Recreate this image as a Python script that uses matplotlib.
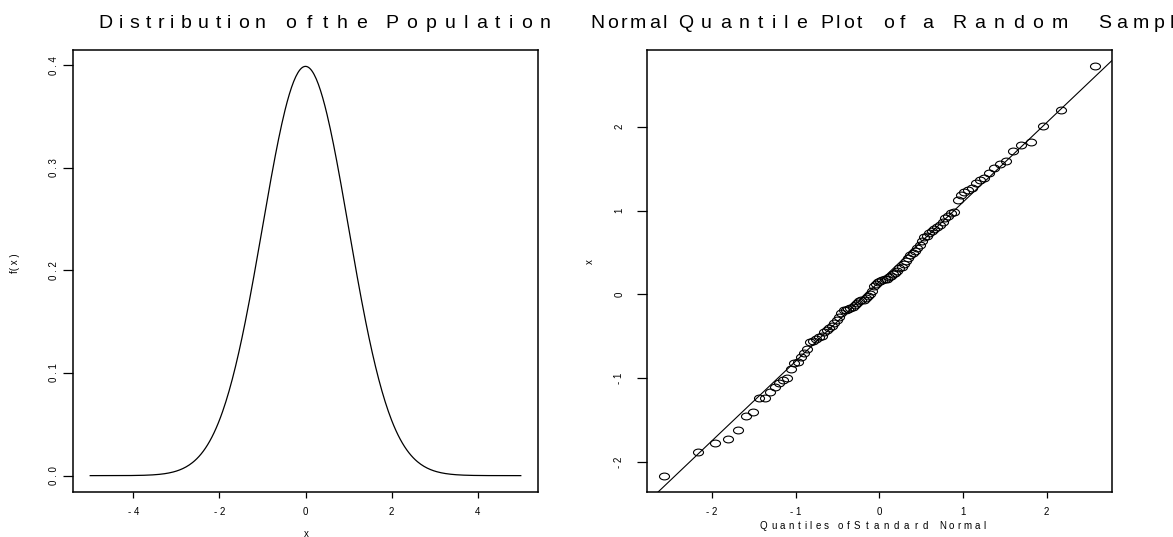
from statistics import NormalDist

import matplotlib
matplotlib.use("Agg")
import matplotlib.pyplot as plt
import numpy as np
from matplotlib.path import Path
from matplotlib.transforms import Affine2D

# left panel: standard normal population, drawn over x from -5 to 5
MU, SIGMA = 0.0, 1.0
X_MIN, X_MAX = -5.0, 5.0
left_xticks = [-4, -2, 0, 2, 4]
left_xlabels = ['- 4', '- 2', '0', '2', '4']
left_yticks = [0.0, 0.1, 0.2, 0.3, 0.4]
left_ylabels = ['0 . 0', '0 . 1', '0 . 2', '0 . 3', '0 . 4']

# right panel: sorted sample of 100 values
sample = [
    -2.16, -1.88, -1.77, -1.72, -1.61, -1.45, -1.40, -1.24, -1.235, -1.16,
    -1.10, -1.06, -1.02, -1.00, -0.89, -0.82, -0.81, -0.74, -0.70, -0.645,
    -0.57, -0.56, -0.53, -0.51, -0.49, -0.45, -0.42, -0.40, -0.37, -0.34,
    -0.31, -0.27, -0.22, -0.19, -0.18, -0.17, -0.16, -0.15, -0.13, -0.10,
    -0.08, -0.07, -0.06, -0.04, -0.02, 0.01, 0.04, 0.10, 0.13, 0.15,
    0.16, 0.17, 0.18, 0.19, 0.21, 0.22, 0.24, 0.26, 0.28, 0.31,
    0.33, 0.36, 0.40, 0.43, 0.47, 0.50, 0.52, 0.55, 0.59, 0.64,
    0.68, 0.70, 0.73, 0.76, 0.78, 0.80, 0.83, 0.87, 0.91, 0.94,
    0.97, 0.98, 1.13, 1.19, 1.22, 1.25, 1.27, 1.33, 1.37, 1.39,
    1.45, 1.51, 1.55, 1.59, 1.71, 1.78, 1.82, 2.01, 2.20, 2.72,
]
line_intercept = 0.153
line_slope = 0.948
right_xticks = [-2, -1, 0, 1, 2]
right_xlabels = ['- 2', '- 1', '0', '1', '2']
right_yticks = [-2, -1, 0, 1, 2]
right_ylabels = ['- 2', '- 1', '0', '1', '2']

# titles are letter-spaced word by word: (word, left px, right px)
left_title = [('Distribution', 98, 266), ('of', 285, 312), ('the', 323, 367),
              ('Population', 385, 551)]
right_title = [('Normal', 590, 667), ('Quantile', 678, 807), ('Plot', 820, 862),
               ('of', 883, 905), ('a', 922, 934), ('Random', 952, 1068),
               ('Sample', 1098, 1190)]
right_xlabel = [('Quantiles', 760, 829), ('of', 838, 850), ('Standard', 854, 928),
                ('Normal', 939, 985)]

W, H = 1173, 537
plt.rcParams['font.family'] = ['Liberation Sans', 'DejaVu Sans']


def box(px_left, px_top, px_right, px_bottom):
    return [px_left / W, 1 - px_bottom / H, (px_right - px_left) / W, (px_bottom - px_top) / H]


def pad_lim(lo, hi, frac=0.04):
    d = (hi - lo) * frac
    return lo - d, hi + d


def style(ax):
    for s in ax.spines.values():
        s.set_linewidth(1.1)
    ax.tick_params(axis='x', direction='out', length=4, width=0.9, pad=7, labelsize=7)
    ax.tick_params(axis='y', direction='out', length=7, width=0.9, labelsize=7)


def tracked(words, y_px, size):
    # spread the letters of each word between its left and right edge
    r = fig.canvas.get_renderer()
    for word, x0, x1 in words:
        texts = [fig.text(0, 0, ch, fontsize=size, ha='left', va='baseline') for ch in word]
        widths = [t.get_window_extent(r).width for t in texts]
        gap = (x1 - x0 - sum(widths)) / max(len(word) - 1, 1)
        x = x0
        for t, w in zip(texts, widths):
            t.set_position((x / W, 1 - y_px / H))
            x += w + gap


fig = plt.figure(figsize=(W / 100, H / 100), dpi=100)

# ---- left: density of the population
ax1 = fig.add_axes(box(73, 50, 538, 492))
nd = NormalDist(MU, SIGMA)
xs = np.linspace(X_MIN, X_MAX, 401)
ys = np.array([nd.pdf(v) for v in xs])
ax1.plot(xs, ys, color='black', lw=0.9)
ax1.set_xlim(*pad_lim(X_MIN, X_MAX))
ax1.set_ylim(*pad_lim(ys.min(), ys.max()))
style(ax1)
ax1.tick_params(axis='y', pad=3)
ax1.set_xticks(left_xticks, left_xlabels)
ax1.set_yticks(left_yticks, left_ylabels, rotation=90, va='center')

# ---- right: normal quantile plot
ax2 = fig.add_axes(box(646.7, 50, 1112, 492))
n = len(sample)
std = NormalDist()
theo = [std.inv_cdf((i - 0.5) / n) for i in range(1, n + 1)]
ellipse = Path.unit_circle().transformed(Affine2D().scale(1, 0.68))
ax2.plot(theo, sample, linestyle='none', marker=ellipse, markersize=7.2,
         mfc='none', mec='black', mew=0.8)
xl = pad_lim(min(theo), max(theo))
yl = pad_lim(min(sample), max(sample))
lx = np.array(xl)
ax2.plot(lx, line_intercept + line_slope * lx, color='black', lw=0.8)
ax2.set_xlim(*xl)
ax2.set_ylim(*yl)
style(ax2)
ax2.tick_params(axis='y', pad=9)
ax2.set_xticks(right_xticks, right_xlabels)
ax2.set_yticks(right_yticks, right_ylabels, rotation=90, va='center')

# ---- titles and axis labels
tracked(left_title, 28.5, 14)
tracked(right_title, 28.5, 14)
tracked(right_xlabel, 529, 7)
fig.text(306 / W, 1 - 534 / H, 'x', ha='center', va='center', fontsize=7)
fig.text(15 / W, 1 - 263 / H, 'f( x )', ha='center', va='center', rotation=90, fontsize=7)
fig.text(590 / W, 1 - 262 / H, 'x', ha='center', va='center', rotation=90, fontsize=7)

fig.savefig('out.png', dpi=100)
